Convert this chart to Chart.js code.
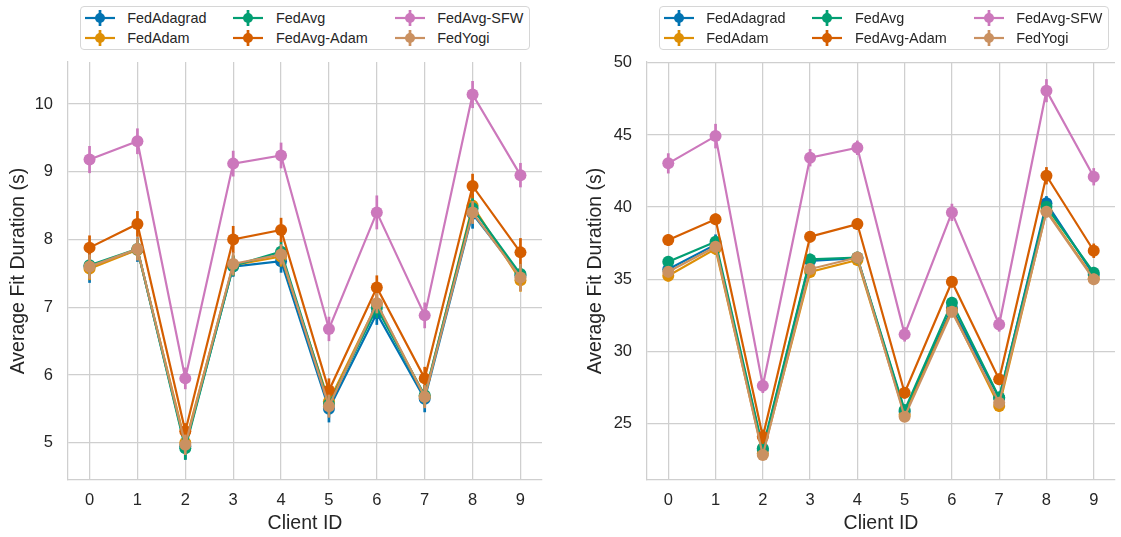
<!DOCTYPE html>
<html lang="en">
<head>
<meta charset="UTF-8">
<title>Average Fit Duration per Client</title>
<script src="https://cdn.jsdelivr.net/npm/chart.js@4/dist/chart.umd.min.js"></script>
<style>
  body { margin: 0; background: #fff; font-family: "Liberation Sans", Arial, sans-serif; }
  #fig { position: relative; width: 1121px; height: 537px; overflow: hidden; }
  canvas { position: absolute; top: 0; }
  .legend-wrap { position: absolute; top: 6px; width: 474px; display: flex; justify-content: center; }
  .legend {
    display: grid; grid-template-rows: 20px 20px; grid-auto-flow: column; column-gap: 27px;
    padding: 1px 6px 1px 4px; border: 1px solid #d6d6d6; border-radius: 4px; background: #fff;
    font-size: 14.4px; color: #262626;
  }
  .legend .item { display: flex; align-items: center; white-space: nowrap; }
  .legend svg { margin-right: 12.5px; }
</style>
</head>
<body>
<div id="fig">
  <canvas id="leftChart" width="577" height="537" style="left:0"></canvas>
  <canvas id="rightChart" width="544" height="537" style="left:577px"></canvas>
  <div class="legend-wrap" style="left:68px"><div class="legend" id="leftLegend"></div></div>
  <div class="legend-wrap" style="left:647px"><div class="legend" id="rightLegend"></div></div>
</div>
<script>
// ------------------------------------------------------------------ data
var clientIds = [0, 1, 2, 3, 4, 5, 6, 7, 8, 9]
var seriesNames = ['FedAdagrad', 'FedAdam', 'FedAvg', 'FedAvg-Adam', 'FedAvg-SFW', 'FedYogi']
var seriesColors = ['#0173b2', '#de8f05', '#029e73', '#d55e00', '#cc78bc', '#ca9161']

// left panel (mean fit duration, seconds)
var leftFedAdagrad = [7.60, 7.85, 4.95, 7.60, 7.68, 5.50, 6.91, 5.65, 8.38, 7.47]
var leftFedAdam = [7.57, 7.85, 5.00, 7.62, 7.75, 5.61, 7.05, 5.68, 8.50, 7.40]
var leftFedAvg = [7.62, 7.86, 4.92, 7.61, 7.82, 5.57, 6.99, 5.70, 8.46, 7.49]
var leftFedAvgAdam = [7.88, 8.23, 5.17, 8.00, 8.14, 5.77, 7.29, 5.95, 8.79, 7.81]
var leftFedAvgSFW = [9.18, 9.45, 5.95, 9.12, 9.24, 6.68, 8.40, 6.88, 10.14, 8.95]
var leftFedYogi = [7.60, 7.86, 4.97, 7.64, 7.78, 5.54, 7.06, 5.68, 8.40, 7.44]

// left panel error bar half-widths
var leftErrFedAdagrad = [0.24, 0.18, 0.20, 0.15, 0.17, 0.20, 0.17, 0.20, 0.22, 0.15]
var leftErrFedAdam = [0.17, 0.15, 0.15, 0.15, 0.15, 0.15, 0.15, 0.15, 0.17, 0.17]
var leftErrFedAvg = [0.15, 0.15, 0.17, 0.15, 0.15, 0.15, 0.15, 0.15, 0.15, 0.15]
var leftErrFedAvgAdam = [0.18, 0.19, 0.12, 0.20, 0.18, 0.18, 0.18, 0.17, 0.18, 0.21]
var leftErrFedAvgSFW = [0.20, 0.19, 0.16, 0.19, 0.19, 0.18, 0.25, 0.19, 0.20, 0.18]
var leftErrFedYogi = [0.18, 0.17, 0.15, 0.17, 0.15, 0.17, 0.15, 0.17, 0.17, 0.20]

// right panel
var rightFedAdagrad = [35.68, 37.40, 23.15, 36.27, 36.45, 25.80, 33.00, 26.75, 40.26, 35.30]
var rightFedAdam = [35.24, 37.10, 22.90, 35.50, 36.33, 25.60, 32.85, 26.20, 39.75, 35.05]
var rightFedAvg = [36.21, 37.60, 23.27, 36.37, 36.50, 25.92, 33.37, 26.80, 40.02, 35.45]
var rightFedAvgAdam = [37.71, 39.15, 24.07, 37.94, 38.82, 27.12, 34.82, 28.05, 42.17, 36.97]
var rightFedAvgSFW = [43.03, 44.92, 27.60, 43.42, 44.11, 31.17, 39.63, 31.86, 48.07, 42.10]
var rightFedYogi = [35.51, 37.25, 22.80, 35.70, 36.50, 25.46, 32.74, 26.43, 39.68, 34.99]

var rightErrFedAdagrad = [0.45, 0.70, 0.40, 0.40, 0.40, 0.40, 0.40, 0.40, 0.50, 0.40]
var rightErrFedAdam = [0.40, 0.40, 0.35, 0.40, 0.40, 0.35, 0.40, 0.40, 0.40, 0.40]
var rightErrFedAvg = [0.40, 0.40, 0.35, 0.40, 0.40, 0.35, 0.40, 0.40, 0.40, 0.40]
var rightErrFedAvgAdam = [0.40, 0.40, 0.50, 0.40, 0.40, 0.40, 0.40, 0.40, 0.60, 0.50]
var rightErrFedAvgSFW = [0.70, 0.85, 0.50, 0.60, 0.50, 0.50, 0.60, 0.50, 0.80, 0.60]
var rightErrFedYogi = [0.40, 0.40, 0.35, 0.40, 0.40, 0.35, 0.40, 0.40, 0.40, 0.40]

var leftYTicks = [5, 6, 7, 8, 9, 10]
var rightYTicks = [25, 30, 35, 40, 45, 50]

// ----------------------------------------------------------------- style
var FONT = '"Liberation Sans", Arial, sans-serif'
var TEXT = '#262626'
var GRID = '#cfcfcf'

// error bars are drawn just before each dataset so layering follows hue order
var errorBars = {
  id: 'errorBars',
  beforeDatasetDraw: function (chart, args) {
    var ds = chart.data.datasets[args.index]
    if (!ds.errors) return
    var ctx = chart.ctx
    var xs = chart.scales.x
    var ys = chart.scales.y
    ctx.save()
    ctx.strokeStyle = ds.borderColor
    ctx.lineWidth = 2.7
    ds.data.forEach(function (p, i) {
      var px = xs.getPixelForValue(p.x)
      ctx.beginPath()
      ctx.moveTo(px, ys.getPixelForValue(p.y - ds.errors[i]))
      ctx.lineTo(px, ys.getPixelForValue(p.y + ds.errors[i]))
      ctx.stroke()
    })
    ctx.restore()
  }
}

function makeDatasets (values, errors) {
  return values.map(function (vals, k) {
    return {
      label: seriesNames[k],
      data: vals.map(function (v, i) { return { x: clientIds[i], y: v } }),
      errors: errors[k],
      borderColor: seriesColors[k],
      backgroundColor: seriesColors[k],
      borderWidth: 2.2,
      pointRadius: 6,
      pointHoverRadius: 6,
      pointBorderWidth: 0,
      tension: 0,
      order: seriesNames.length - k
    }
  })
}

function makeChart (canvasId, datasets, yMin, yMax, yTicks, yWidth, padRight) {
  return new Chart(document.getElementById(canvasId), {
    type: 'line',
    data: { datasets: datasets },
    plugins: [errorBars],
    options: {
      responsive: false,
      animation: false,
      layout: { padding: { top: 62, right: padRight, bottom: 0, left: 0 } },
      plugins: { legend: { display: false }, tooltip: { enabled: false } },
      scales: {
        x: {
          type: 'linear',
          min: -0.45,
          max: 9.45,
          afterBuildTicks: function (s) { s.ticks = clientIds.map(function (v) { return { value: v } }) },
          afterFit: function (s) { s.height = 57 },
          grid: { color: GRID, lineWidth: 1.25, drawTicks: false },
          border: { display: true, color: GRID, width: 1.25 },
          ticks: { padding: 11, color: TEXT, font: { family: FONT, size: 16.5 }, maxRotation: 0 },
          title: { display: true, text: 'Client ID', color: TEXT, font: { family: FONT, size: 19.5 }, padding: { top: 0, bottom: 2 } }
        },
        y: {
          min: yMin,
          max: yMax,
          afterBuildTicks: function (s) { s.ticks = yTicks.map(function (v) { return { value: v } }) },
          afterFit: function (s) { s.width = yWidth },
          grid: { color: GRID, lineWidth: 1.25, drawTicks: false },
          border: { display: true, color: GRID, width: 1.25 },
          ticks: { padding: 15, color: TEXT, font: { family: FONT, size: 16.5 } },
          title: { display: true, text: 'Average Fit Duration (s)', color: TEXT, font: { family: FONT, size: 19.5 }, padding: { top: 6.5, bottom: 0 } }
        }
      }
    }
  })
}

function makeLegend (id) {
  var box = document.getElementById(id)
  seriesNames.forEach(function (name, k) {
    var c = seriesColors[k]
    var item = document.createElement('div')
    item.className = 'item'
    item.innerHTML =
      '<svg width="30" height="20" viewBox="0 0 30 20">' +
      '<line x1="0" y1="10" x2="30" y2="10" stroke="' + c + '" stroke-width="2.2"/>' +
      '<line x1="15" y1="2" x2="15" y2="18" stroke="' + c + '" stroke-width="2.7"/>' +
      '<circle cx="15" cy="10" r="5" fill="' + c + '"/></svg>'
    var span = document.createElement('span')
    span.textContent = name
    item.appendChild(span)
    box.appendChild(item)
  })
}

makeChart('leftChart',
  makeDatasets(
    [leftFedAdagrad, leftFedAdam, leftFedAvg, leftFedAvgAdam, leftFedAvgSFW, leftFedYogi],
    [leftErrFedAdagrad, leftErrFedAdam, leftErrFedAvg, leftErrFedAvgAdam, leftErrFedAvgSFW, leftErrFedYogi]),
  4.45, 10.62, leftYTicks, 68, 35)

makeChart('rightChart',
  makeDatasets(
    [rightFedAdagrad, rightFedAdam, rightFedAvg, rightFedAvgAdam, rightFedAvgSFW, rightFedYogi],
    [rightErrFedAdagrad, rightErrFedAdam, rightErrFedAvg, rightErrFedAvgAdam, rightErrFedAvgSFW, rightErrFedYogi]),
  21.07, 50.06, rightYTicks, 70, 0)

makeLegend('leftLegend')
makeLegend('rightLegend')
</script>
</body>
</html>
